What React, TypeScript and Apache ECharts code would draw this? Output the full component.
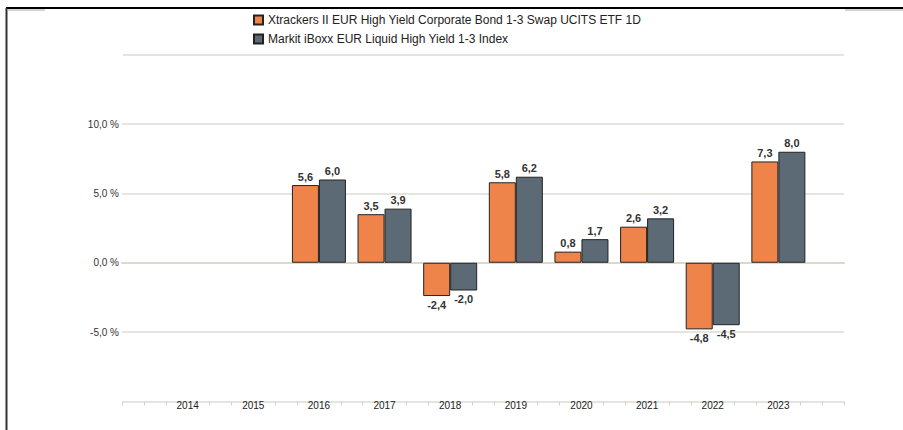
import React, { useEffect, useRef } from "react";
import * as echarts from "echarts";

const categories = ["", "2014", "2015", "2016", "2017", "2018", "2019", "2020", "2021", "2022", "2023", ""];
const etfName = "Xtrackers II EUR High Yield Corporate Bond 1-3 Swap UCITS ETF 1D";
const indexName = "Markit iBoxx EUR Liquid High Yield 1-3 Index";
const etfValues: (number | null)[] = [null, null, null, 5.6, 3.5, -2.4, 5.8, 0.8, 2.6, -4.8, 7.3, null];
const indexValues: (number | null)[] = [null, null, null, 6.0, 3.9, -2.0, 6.2, 1.7, 3.2, -4.5, 8.0, null];
const yTicks = [-10, -5, 0, 5, 10];
const minorCount = 34;

const FONT = "'Liberation Sans', Arial, sans-serif";
const fmt = (v: number) => v.toFixed(1).replace(".", ",");

function toData(vals: (number | null)[]) {
  return vals.map((v) =>
    v == null
      ? null
      : {
          value: v,
          label: { position: v >= 0 ? "top" : "bottom" },
        }
  );
}

export default function App() {
  const ref = useRef<HTMLDivElement>(null);
  useEffect(() => {
    document.body.style.margin = "0";
    const chart = echarts.init(ref.current!, undefined, { renderer: "svg" });
    const barLabel = {
      show: true,
      distance: 3,
      fontSize: 11,
      fontWeight: "bold",
      color: "#333",
      fontFamily: FONT,
      formatter: (p: any) => fmt(p.value),
    };
    chart.setOption({
      animation: false,
      backgroundColor: "#fff",
      textStyle: { fontFamily: FONT },
      legend: {
        orient: "vertical",
        left: 253,
        top: 13,
        padding: 0,
        itemWidth: 9,
        itemHeight: 9,
        itemGap: 5,
        itemTextGap: 5,
        icon: "rect",
        textStyle: { fontSize: 12, color: "#222", lineHeight: 14, fontFamily: FONT },
        data: [etfName, indexName],
      },
      grid: { left: 122, right: 59, top: 124, bottom: 28.5, containLabel: false },
      xAxis: [
        {
          type: "category",
          data: categories,
          boundaryGap: false,
          position: "bottom",
          axisLine: { show: true, lineStyle: { color: "#dcd8ce", width: 2 } },
          axisTick: { show: false },
          axisLabel: {
            fontSize: 10,
            color: "#222",
            fontFamily: FONT,
            verticalAlign: "middle",
            margin: 4,
            interval: 0,
          },
          splitLine: { show: false },
        },
        {
          type: "category",
          data: Array.from({ length: minorCount }, (_, i) => String(i)),
          boundaryGap: false,
          position: "bottom",
          axisLine: { show: false },
          axisTick: {
            show: true,
            length: 4,
            interval: (i: number) => i % 3 !== 0 || i === 0 || i === minorCount - 1,
            lineStyle: { color: "#d4d0c6", width: 1 },
          },
          axisLabel: { show: false },
          splitLine: { show: false },
        },
      ],
      yAxis: {
        type: "value",
        min: yTicks[0],
        max: yTicks[yTicks.length - 1],
        interval: 5,
        axisLine: { show: false },
        axisTick: { show: false },
        axisLabel: {
          fontSize: 10,
          color: "#333",
          fontFamily: FONT,
          margin: 3,
          formatter: (v: number) => (v === yTicks[0] ? "" : fmt(v) + " %"),
        },
        splitLine: { show: true, lineStyle: { color: "#dedbd3", width: 1.5 } },
      },
      series: [
        {
          name: etfName,
          type: "bar",
          xAxisIndex: 0,
          barWidth: 27,
          barGap: "0%",
          itemStyle: { color: "#ee844a", borderColor: "#222", borderWidth: 1 },
          label: barLabel,
          data: toData(etfValues),
        },
        {
          name: indexName,
          type: "bar",
          xAxisIndex: 0,
          barWidth: 27,
          barGap: "0%",
          itemStyle: { color: "#5b6a75", borderColor: "#222", borderWidth: 1 },
          label: barLabel,
          data: toData(indexValues),
        },
      ],
      graphic: [
        { type: "line", shape: { x1: 6, y1: 8, x2: 903, y2: 8 }, style: { stroke: "#000", lineWidth: 2 } },
        { type: "line", shape: { x1: 6.5, y1: 8, x2: 6.5, y2: 430 }, style: { stroke: "#333", lineWidth: 2 } },
        { type: "line", shape: { x1: 7, y1: 10, x2: 45, y2: 10 }, style: { stroke: "#aaa", lineWidth: 1 } },
        { type: "line", shape: { x1: 845, y1: 10, x2: 903, y2: 10 }, style: { stroke: "#aaa", lineWidth: 1 } },
        { type: "line", shape: { x1: 123, y1: 55, x2: 844, y2: 55 }, style: { stroke: "#e4e3de", lineWidth: 2 } },
      ],
    });
    return () => chart.dispose();
  }, []);
  return <div ref={ref} style={{ width: 903, height: 430 }} />;
}
